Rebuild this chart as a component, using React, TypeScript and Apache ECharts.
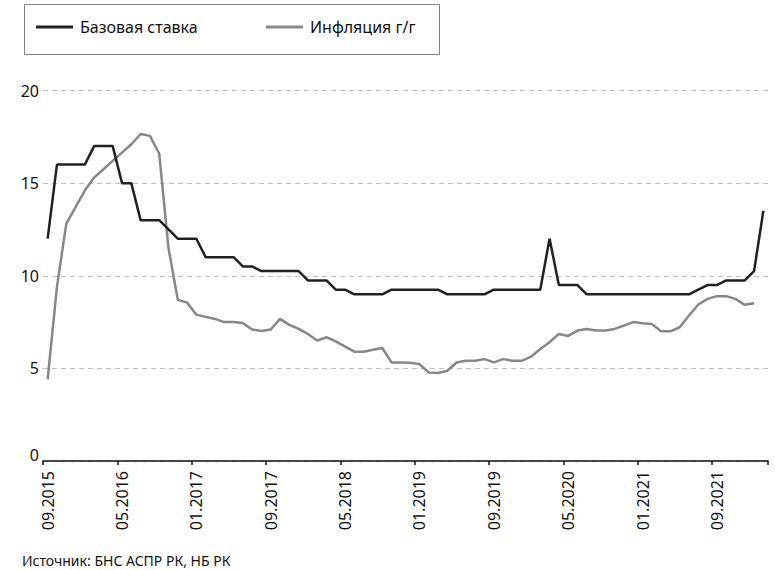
import React, { useEffect, useRef } from "react";
import * as echarts from "echarts";

const months = [
  "09.2015", "10.2015", "11.2015", "12.2015",
  "01.2016", "02.2016", "03.2016", "04.2016", "05.2016", "06.2016", "07.2016", "08.2016", "09.2016", "10.2016", "11.2016", "12.2016",
  "01.2017", "02.2017", "03.2017", "04.2017", "05.2017", "06.2017", "07.2017", "08.2017", "09.2017", "10.2017", "11.2017", "12.2017",
  "01.2018", "02.2018", "03.2018", "04.2018", "05.2018", "06.2018", "07.2018", "08.2018", "09.2018", "10.2018", "11.2018", "12.2018",
  "01.2019", "02.2019", "03.2019", "04.2019", "05.2019", "06.2019", "07.2019", "08.2019", "09.2019", "10.2019", "11.2019", "12.2019",
  "01.2020", "02.2020", "03.2020", "04.2020", "05.2020", "06.2020", "07.2020", "08.2020", "09.2020", "10.2020", "11.2020", "12.2020",
  "01.2021", "02.2021", "03.2021", "04.2021", "05.2021", "06.2021", "07.2021", "08.2021", "09.2021", "10.2021", "11.2021", "12.2021",
  "01.2022", "02.2022",
];

const baseRate = [
  12,
  16, 16, 16, 16,
  17, 17, 17,
  15, 15,
  13, 13, 13,
  12.5,
  12, 12, 12,
  11, 11, 11, 11,
  10.5, 10.5,
  10.25, 10.25, 10.25, 10.25, 10.25,
  9.75, 9.75, 9.75,
  9.25, 9.25,
  9, 9, 9, 9,
  9.25, 9.25, 9.25, 9.25, 9.25, 9.25,
  9, 9, 9, 9, 9,
  9.25, 9.25, 9.25, 9.25, 9.25, 9.25,
  12,
  9.5, 9.5, 9.5,
  9, 9, 9, 9, 9, 9, 9, 9, 9, 9, 9, 9,
  9.25,
  9.5, 9.5,
  9.75, 9.75, 9.75,
  10.25,
  13.5,
];

const inflation = [
  4.4, 9.4, 12.8, 13.7,
  14.6, 15.3, 15.75, 16.2, 16.65, 17.1, 17.65, 17.55, 16.6, 11.5, 8.7, 8.55,
  7.9, 7.78, 7.67, 7.5, 7.5, 7.45, 7.1, 7.02, 7.1, 7.67, 7.35, 7.13,
  6.86, 6.5, 6.68, 6.46, 6.17, 5.9, 5.9, 6.0, 6.1, 5.32, 5.32, 5.3,
  5.23, 4.78, 4.75, 4.87, 5.32, 5.41, 5.41, 5.5, 5.32, 5.5, 5.41, 5.41,
  5.63, 6.05, 6.41, 6.86, 6.75, 7.04, 7.13, 7.04, 7.04, 7.13, 7.31, 7.5,
  7.43, 7.4, 7.0, 7.0, 7.22, 7.85, 8.45, 8.75, 8.9, 8.9, 8.75, 8.43,
  8.52, null,
];

const seriesNames = ["Базовая ставка", "Инфляция г/г"];
const sourceText = "Источник: БНС АСПР РК, НБ РК";
const zeroLabel = "0";

const FONT = "'Noto Sans', 'Open Sans', sans-serif";
const BLACK = "#231f20";
const GRAY = "#878787";
const TEXT = "#111111";

export default function App() {
  const ref = useRef<HTMLDivElement>(null);

  useEffect(() => {
    document.body.style.margin = "0";
    if (!ref.current) return;
    const chart = echarts.init(ref.current, undefined, { renderer: "svg" });
    const legendBase = {
      top: 19,
      padding: 0,
      icon: "rect",
      itemWidth: 37,
      itemHeight: 3,
      textStyle: { fontSize: 16, color: TEXT, fontFamily: FONT, padding: [0, 0, 0, 2] },
    };
    chart.setOption({
      animation: false,
      backgroundColor: "#ffffff",
      textStyle: { fontFamily: FONT },
      grid: { left: 43, right: 7, top: 90.5, bottom: 109, containLabel: false },
      legend: [
        { ...legendBase, data: [seriesNames[0]], left: 36 },
        { ...legendBase, data: [seriesNames[1]], left: 266 },
      ],
      graphic: [
        {
          type: "rect",
          shape: { x: 24.5, y: 4.5, width: 415, height: 50 },
          style: { fill: "none", stroke: "#808080", lineWidth: 1 },
          silent: true,
        },
        {
          type: "text",
          x: 22,
          y: 560,
          style: { text: sourceText, font: `14px ${FONT}`, fill: TEXT, verticalAlign: "middle", align: "left" },
          silent: true,
        },
        {
          type: "text",
          x: 39,
          y: 455,
          style: { text: zeroLabel, font: `16px ${FONT}`, fill: TEXT, verticalAlign: "middle", align: "right" },
          silent: true,
        },
      ],
      xAxis: {
        type: "category",
        data: months,
        boundaryGap: true,
        axisLine: { show: true, lineStyle: { color: TEXT, width: 1.5 } },
        axisTick: { show: true, interval: 7, length: 4, lineStyle: { color: TEXT, width: 1.5 } },
        axisLabel: {
          interval: 7,
          rotate: 90,
          fontSize: 16,
          color: TEXT,
          margin: 10,
          fontFamily: FONT,
          padding: [0, 0, 7, 0],
        },
        splitLine: { show: false },
      },
      yAxis: {
        type: "value",
        min: 0,
        max: 20,
        interval: 5,
        axisLine: { show: false },
        axisTick: { show: false },
        axisLabel: { fontSize: 16, color: TEXT, margin: 4, fontFamily: FONT, showMinLabel: false },
        splitLine: { show: true, lineStyle: { color: "#bfbfbf", width: 1, type: [5, 4] } },
      },
      series: [
        {
          name: seriesNames[0],
          type: "line",
          data: baseRate,
          showSymbol: false,
          color: BLACK,
          lineStyle: { color: BLACK, width: 2.5 },
          z: 3,
        },
        {
          name: seriesNames[1],
          type: "line",
          data: inflation,
          showSymbol: false,
          color: GRAY,
          lineStyle: { color: GRAY, width: 2.5 },
          z: 2,
        },
      ],
    });
    return () => chart.dispose();
  }, []);

  return <div ref={ref} style={{ width: 775, height: 570 }} />;
}
